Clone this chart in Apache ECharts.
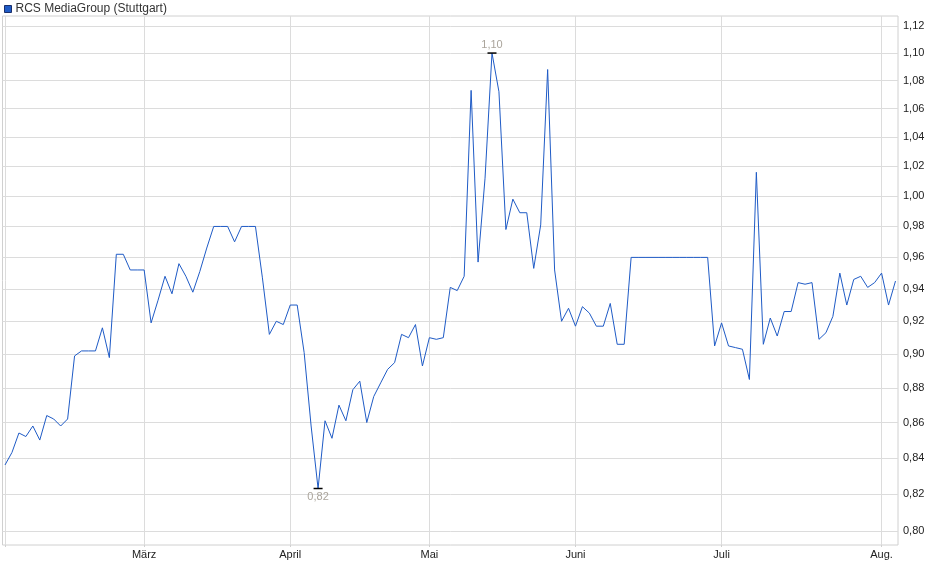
<!DOCTYPE html>
<html>
<head>
<meta charset="utf-8">
<script src="https://cdn.jsdelivr.net/npm/echarts@6/dist/echarts.min.js"></script>
<style>
  html, body { margin: 0; padding: 0; background: #fff; }
  #chart { width: 940px; height: 579px; }
</style>
</head>
<body>
<div id="chart"></div>
<script>
// Trading days (Stuttgart), 2025
const dates = [
  '2025-02-03','2025-02-04','2025-02-05','2025-02-06','2025-02-07','2025-02-10','2025-02-11','2025-02-12','2025-02-13','2025-02-14',
  '2025-02-17','2025-02-18','2025-02-19','2025-02-20','2025-02-21','2025-02-24','2025-02-25','2025-02-26','2025-02-27','2025-02-28',
  '2025-03-03','2025-03-04','2025-03-05','2025-03-06','2025-03-07','2025-03-10','2025-03-11','2025-03-12','2025-03-13','2025-03-14',
  '2025-03-17','2025-03-18','2025-03-19','2025-03-20','2025-03-21','2025-03-24','2025-03-25','2025-03-26','2025-03-27','2025-03-28',
  '2025-03-31',
  '2025-04-01','2025-04-02','2025-04-03','2025-04-04','2025-04-07','2025-04-08','2025-04-09','2025-04-10','2025-04-11','2025-04-14',
  '2025-04-15','2025-04-16','2025-04-17','2025-04-22','2025-04-23','2025-04-24','2025-04-25','2025-04-28','2025-04-29','2025-04-30',
  '2025-05-02','2025-05-05','2025-05-06','2025-05-07','2025-05-08','2025-05-09','2025-05-12','2025-05-13','2025-05-14','2025-05-15',
  '2025-05-16','2025-05-19','2025-05-20','2025-05-21','2025-05-22','2025-05-23','2025-05-26','2025-05-27','2025-05-28','2025-05-29',
  '2025-05-30',
  '2025-06-02','2025-06-03','2025-06-04','2025-06-05','2025-06-06','2025-06-09','2025-06-10','2025-06-11','2025-06-12','2025-06-13',
  '2025-06-16','2025-06-17','2025-06-18','2025-06-19','2025-06-20','2025-06-23','2025-06-24','2025-06-25','2025-06-26','2025-06-27',
  '2025-06-30',
  '2025-07-01','2025-07-02','2025-07-03','2025-07-04','2025-07-07','2025-07-08','2025-07-09','2025-07-10','2025-07-11','2025-07-14',
  '2025-07-15','2025-07-16','2025-07-17','2025-07-18','2025-07-21','2025-07-22','2025-07-23','2025-07-24','2025-07-25','2025-07-28',
  '2025-07-29','2025-07-30','2025-07-31',
  '2025-08-01','2025-08-04','2025-08-05'
];

// Closing prices (EUR)
const prices = [
  0.836,0.843,0.854,0.852,0.858,0.850,0.864,0.862,0.858,0.862,
  0.899,0.902,0.902,0.902,0.916,0.898,0.962,0.962,0.952,0.952,
  0.952,0.919,0.933,0.948,0.937,0.956,0.948,0.938,0.951,0.966,
  0.980,0.980,0.980,0.970,0.980,0.980,0.980,0.947,0.912,0.920,
  0.918,
  0.930,0.930,0.901,0.858,0.823,0.861,0.851,0.870,0.861,0.879,
  0.884,0.860,0.875,0.883,0.891,0.895,0.912,0.910,0.918,0.893,
  0.910,0.909,0.910,0.941,0.939,0.948,1.073,0.957,1.012,1.100,
  1.072,0.978,0.998,0.989,0.989,0.953,0.981,1.088,0.952,0.920,
  0.928,
  0.917,0.929,0.925,0.917,0.917,0.931,0.906,0.906,0.960,0.960,
  0.960,0.960,0.960,0.960,0.960,0.960,0.960,0.960,0.960,0.960,
  0.905,
  0.919,0.905,0.904,0.903,0.885,1.016,0.906,0.922,0.911,0.926,
  0.926,0.944,0.943,0.944,0.909,0.913,0.923,0.950,0.930,0.946,
  0.948,0.941,0.944,
  0.950,0.930,0.945
];

const yTickValues = [0.80,0.82,0.84,0.86,0.88,0.90,0.92,0.94,0.96,0.98,1.00,1.02,1.04,1.06,1.08,1.10,1.12];
const monthNames = ['Jan.','Feb.','März','April','Mai','Juni','Juli','Aug.','Sep.','Okt.','Nov.','Dez.'];
const seriesName = 'RCS MediaGroup (Stuttgart)';

// first trading day of each month -> gridlines / labels
const monthStarts = [];
dates.forEach((d, i) => {
  if (i === 0 || d.slice(5, 7) !== dates[i - 1].slice(5, 7)) monthStarts.push(i);
});
const labelStarts = monthStarts.filter(i => i > 0);

const fmt = v => Number(v).toFixed(2).replace('.', ',');
const lineColor = '#1f5bc6';
const font = '"Liberation Sans", Arial, sans-serif';

const chart = echarts.init(document.getElementById('chart'), null, { renderer: 'canvas' });
chart.setOption({
  animation: false,
  backgroundColor: '#fff',
  textStyle: { fontFamily: font },
  legend: {
    left: 4, top: 3, padding: 0,
    itemWidth: 7, itemHeight: 7, itemGap: 10,
    icon: 'rect',
    textStyle: { color: '#333', fontSize: 12, fontFamily: font, padding: [0, 0, 0, -1] },
    data: [{ name: seriesName, itemStyle: { color: lineColor, borderColor: '#1b2f6b', borderWidth: 1 } }]
  },
  grid: {
    left: 2.5, right: 42, top: 16, bottom: 34,
    show: true, borderColor: '#d0d0d0', borderWidth: 1, backgroundColor: 'transparent'
  },
  xAxis: {
    type: 'value',
    min: -0.36, max: dates.length - 1 + 0.36,
    axisLine: { show: false },
    axisTick: { show: true, length: 2, customValues: monthStarts, lineStyle: { color: '#d0d0d0' } },
    splitLine: { show: true, lineStyle: { color: '#dcdcdc', width: 1 } },
    axisLabel: {
      customValues: labelStarts,
      margin: 4,
      color: '#222', fontSize: 11, fontFamily: font,
      formatter: v => monthNames[parseInt(dates[Math.round(v)].slice(5, 7), 10) - 1]
    }
  },
  yAxis: {
    type: 'log',
    logBase: 10,
    position: 'right',
    min: 0.7926, max: 1.1275,
    axisLine: { show: false },
    axisTick: { show: false, customValues: yTickValues },
    splitLine: { show: true, lineStyle: { color: '#dcdcdc', width: 1 } },
    axisLabel: {
      customValues: yTickValues,
      margin: 5,
      color: '#222', fontSize: 11, fontFamily: font,
      formatter: v => fmt(v)
    }
  },
  series: [{
    name: seriesName,
    type: 'line',
    data: prices.map((p, i) => [i, p]),
    showSymbol: false,
    symbol: 'none',
    lineStyle: { color: lineColor, width: 1 },
    itemStyle: { color: lineColor },
    emphasis: { disabled: true },
    markPoint: {
      symbol: 'rect',
      symbolSize: [9, 1.5],
      itemStyle: { color: '#000' },
      data: [
        { type: 'max', label: { position: 'top', distance: 2 } },
        { type: 'min', label: { position: 'bottom', distance: 2 } }
      ],
      label: {
        show: true,
        color: '#aaa49b',
        fontSize: 11,
        fontFamily: font,
        formatter: p => fmt(p.value)
      }
    }
  }]
});
</script>
</body>
</html>
